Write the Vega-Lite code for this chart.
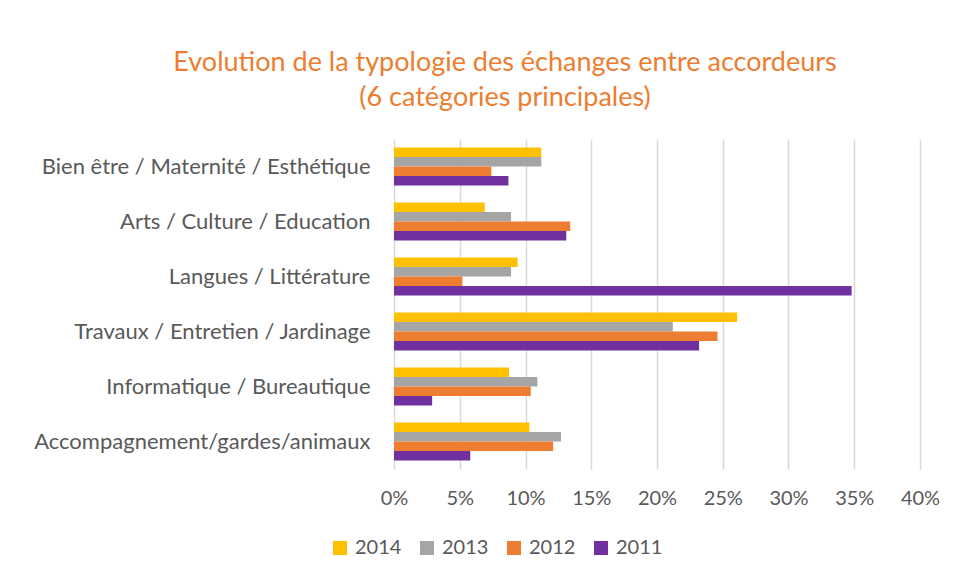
{
  "$schema": "https://vega.github.io/schema/vega-lite/v6.json",
  "autosize": {"type": "none"},
  "width": 526,
  "height": 330,
  "padding": {"left": 394, "top": 139, "right": 35, "bottom": 113},
  "background": "white",
  "title": {
    "text": ["Evolution de la typologie des échanges entre accordeurs", "(6 catégories principales)"],
    "anchor": "middle",
    "frame": "group",
    "dx": -152,
    "offset": 27,
    "color": "#ED7D31",
    "font": "Lato",
    "fontSize": 27,
    "fontWeight": "normal",
    "lineHeight": 35
  },
  "data": {
    "values": [
      {"cat": "Bien être / Maternité / Esthétique", "year": "2014", "value": 0.112},
      {"cat": "Bien être / Maternité / Esthétique", "year": "2013", "value": 0.112},
      {"cat": "Bien être / Maternité / Esthétique", "year": "2012", "value": 0.074},
      {"cat": "Bien être / Maternité / Esthétique", "year": "2011", "value": 0.087},
      {"cat": "Arts / Culture / Education", "year": "2014", "value": 0.069},
      {"cat": "Arts / Culture / Education", "year": "2013", "value": 0.089},
      {"cat": "Arts / Culture / Education", "year": "2012", "value": 0.134},
      {"cat": "Arts / Culture / Education", "year": "2011", "value": 0.131},
      {"cat": "Langues / Littérature", "year": "2014", "value": 0.094},
      {"cat": "Langues / Littérature", "year": "2013", "value": 0.089},
      {"cat": "Langues / Littérature", "year": "2012", "value": 0.052},
      {"cat": "Langues / Littérature", "year": "2011", "value": 0.348},
      {"cat": "Travaux / Entretien / Jardinage", "year": "2014", "value": 0.261},
      {"cat": "Travaux / Entretien / Jardinage", "year": "2013", "value": 0.212},
      {"cat": "Travaux / Entretien / Jardinage", "year": "2012", "value": 0.246},
      {"cat": "Travaux / Entretien / Jardinage", "year": "2011", "value": 0.232},
      {"cat": "Informatique / Bureautique", "year": "2014", "value": 0.0875},
      {"cat": "Informatique / Bureautique", "year": "2013", "value": 0.109},
      {"cat": "Informatique / Bureautique", "year": "2012", "value": 0.104},
      {"cat": "Informatique / Bureautique", "year": "2011", "value": 0.029},
      {"cat": "Accompagnement/gardes/animaux", "year": "2014", "value": 0.103},
      {"cat": "Accompagnement/gardes/animaux", "year": "2013", "value": 0.127},
      {"cat": "Accompagnement/gardes/animaux", "year": "2012", "value": 0.121},
      {"cat": "Accompagnement/gardes/animaux", "year": "2011", "value": 0.058}
    ]
  },
  "mark": {"type": "bar"},
  "encoding": {
    "y": {
      "field": "cat",
      "type": "nominal",
      "sort": ["Bien être / Maternité / Esthétique", "Arts / Culture / Education", "Langues / Littérature", "Travaux / Entretien / Jardinage", "Informatique / Bureautique", "Accompagnement/gardes/animaux"],
      "scale": {"paddingInner": 0.31, "paddingOuter": 0.155},
      "axis": {
        "title": null,
        "domain": false,
        "ticks": false,
        "labelPadding": 24,
        "labelFont": "Lato",
        "labelFontSize": 22,
        "labelColor": "#595959",
        "labelLimit": 400
      }
    },
    "yOffset": {
      "field": "year",
      "type": "nominal",
      "sort": ["2014", "2013", "2012", "2011"]
    },
    "x": {
      "field": "value",
      "type": "quantitative",
      "scale": {"domain": [0, 0.4]},
      "axis": {
        "title": null,
        "format": ".0%",
        "values": [0, 0.05, 0.1, 0.15, 0.2, 0.25, 0.3, 0.35, 0.4],
        "domain": false,
        "ticks": false,
        "grid": true,
        "gridColor": "#D9D9D9",
        "gridWidth": 1.5,
        "labelFlush": false,
        "labelPadding": 19,
        "labelFont": "Lato",
        "labelFontSize": 20,
        "labelColor": "#595959"
      }
    },
    "color": {
      "field": "year",
      "type": "nominal",
      "scale": {"domain": ["2014", "2013", "2012", "2011"], "range": ["#FFC000", "#A5A5A5", "#ED7D31", "#7030A0"]},
      "legend": {
        "title": null,
        "orient": "none",
        "direction": "horizontal",
        "legendX": -64,
        "legendY": 399,
        "symbolType": "square",
        "symbolSize": 196,
        "symbolStrokeWidth": 0,
        "labelFont": "Lato",
        "labelFontSize": 20,
        "labelColor": "#595959",
        "labelOffset": 5,
        "columnPadding": 15
      }
    }
  },
  "config": {"view": {"stroke": null}}
}
